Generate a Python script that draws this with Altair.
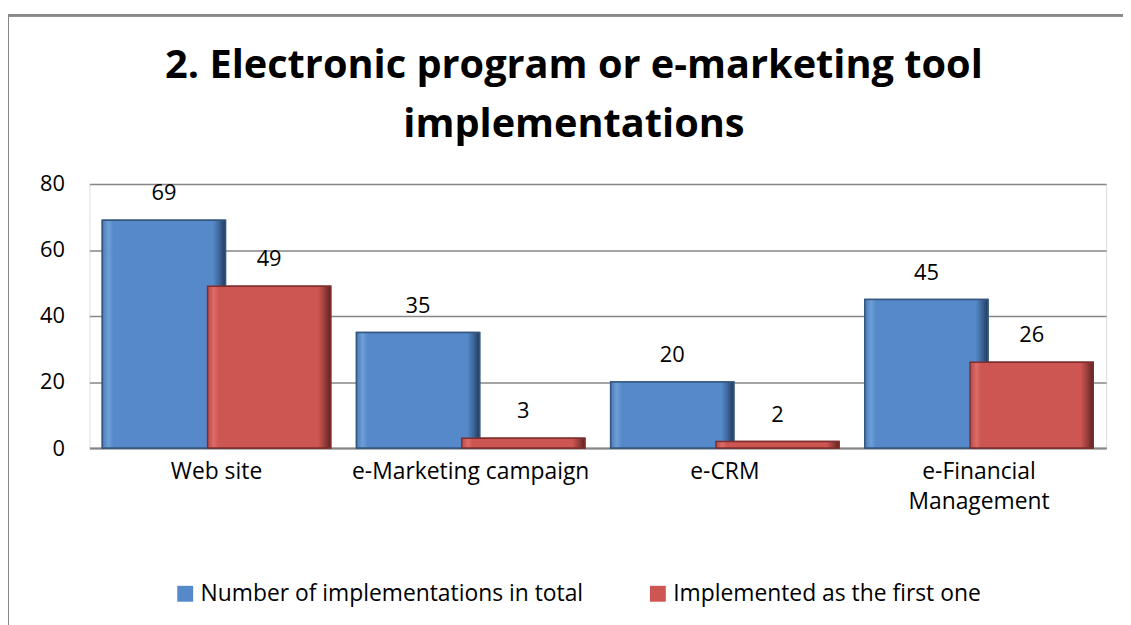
import altair as alt
import pandas as pd

categories = ["Web site", "e-Marketing campaign", "e-CRM", "e-Financial Management"]
series_names = ["Number of implementations in total", "Implemented as the first one"]
total_values = [69, 35, 20, 45]
first_values = [49, 3, 2, 26]

rows = []
for c, v in zip(categories, total_values):
    rows.append({"cat": c, "series": series_names[0], "value": v})
for c, v in zip(categories, first_values):
    rows.append({"cat": c, "series": series_names[1], "value": v})
df = pd.DataFrame(rows)

FONT = "Open Sans"
colors = ["#5589CA", "#CD5552"]
dark = ["#34577F", "#7E2F2D"]


def grad(edge_l, light, main, mid_dark, edge_d):
    return alt.Gradient(
        gradient="linear", x1=0, x2=1, y1=0, y2=0,
        stops=[alt.GradientStop(offset=0, color=edge_l),
               alt.GradientStop(offset=0.05, color=light),
               alt.GradientStop(offset=0.09, color=main),
               alt.GradientStop(offset=0.90, color=main),
               alt.GradientStop(offset=0.95, color=mid_dark),
               alt.GradientStop(offset=1, color=edge_d)])


grads = [grad("#4A7CB8", "#6E9FD8", colors[0], "#3D669A", "#22395A"),
         grad("#B84A48", "#DC6C69", colors[1], "#9A3E3C", "#5E2423")]

x_enc = alt.X("cat:N", sort=categories, title=None,
              scale=alt.Scale(paddingInner=0, paddingOuter=0),
              axis=alt.Axis(labelExpr="datum.value == 'e-Financial Management' ? ['e-Financial', 'Management'] : datum.value",
                            labelAngle=0, labelFontSize=23, labelFont=FONT, labelColor="#000000",
                            labelPadding=13, labelLineHeight=30, labelLimit=400,
                            ticks=False, domainColor="#868686", domainWidth=2))
xoff = alt.XOffset("series:N", sort=series_names,
                   scale=alt.Scale(domain=series_names, paddingInner=0, paddingOuter=0.2075))
y_enc = alt.Y("value:Q", title=None,
              scale=alt.Scale(domain=[0, 80]),
              axis=alt.Axis(values=[0, 20, 40, 60, 80], labelFontSize=22, labelFont=FONT,
                            labelColor="#000000", labelPadding=25, ticks=False, domain=False,
                            gridColor="#868686", gridWidth=1.5))

base = alt.Chart(df)

bars = base.mark_bar(width=124, strokeWidth=1.5).encode(
    x=x_enc, xOffset=xoff, y=y_enc,
    fill=alt.Fill("series:N", sort=series_names,
                  scale=alt.Scale(domain=series_names, range=colors),
                  legend=alt.Legend(title=None, orient="none", legendX=85, legendY=401,
                                    direction="horizontal",
                                    symbolType="square", symbolSize=256, symbolStrokeWidth=0,
                                    labelFontSize=23, labelFont=FONT, labelColor="#000000",
                                    columnPadding=63, labelLimit=600, labelOffset=4)),
    stroke=alt.Stroke("series:N", scale=alt.Scale(domain=series_names, range=dark), legend=None),
)

shade_layers = []
for i, s in enumerate(series_names):
    shade_layers.append(
        base.transform_filter(alt.datum.series == s).mark_bar(
            width=124, fill=grads[i], stroke=dark[i], strokeWidth=1.5
        ).encode(x=x_enc, xOffset=xoff, y=y_enc)
    )

labels = base.mark_text(dy=-27, fontSize=22, font=FONT, color="#000000").encode(
    x=x_enc, xOffset=xoff, y=y_enc, text="value:Q",
)

frame_top = alt.Chart(df).mark_rule(color="#888888", strokeWidth=2).encode(
    x=alt.value(-82), x2=alt.value(1060), y=alt.value(-170))
frame_left = alt.Chart(df).mark_rule(color="#888888", strokeWidth=2).encode(
    x=alt.value(-82), y=alt.value(-170), y2=alt.value(460))

chart = alt.layer(frame_top, frame_left, bars, *shade_layers, labels).properties(
    width=1024, height=266,
    autosize=alt.AutoSizeParams(type="none"),
    padding={"left": 82, "top": 175, "right": 17, "bottom": 176},
    title=alt.TitleParams(["2. Electronic program or e-marketing tool", "implementations"],
                          fontSize=40, font=FONT, fontWeight="bold", color="#000000",
                          anchor="middle", lineHeight=60, offset=10, dy=142, dx=-24),
).configure_view(stroke=None).configure(background="white")

chart.save("out.html", embed_options={"renderer": "svg", "actions": False})
